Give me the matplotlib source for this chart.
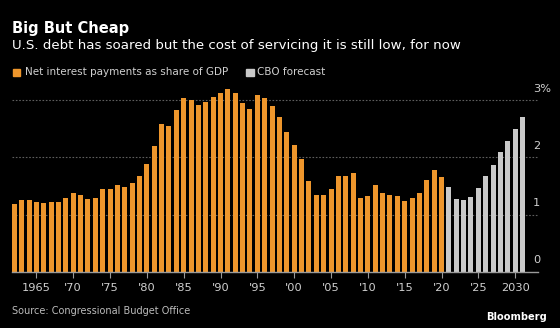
import matplotlib
matplotlib.use("Agg")
import matplotlib.pyplot as plt
from matplotlib.patches import Rectangle

# ---- data ----
hist_years = list(range(1962, 2021))
hist_values = [1.18, 1.25, 1.25, 1.22, 1.20, 1.23, 1.23, 1.30, 1.38, 1.34,
               1.28, 1.30, 1.45, 1.45, 1.51, 1.48, 1.56, 1.67, 1.88, 2.20,
               2.58, 2.54, 2.83, 3.04, 3.01, 2.92, 2.97, 3.05, 3.13, 3.20,
               3.12, 2.95, 2.84, 3.09, 3.04, 2.90, 2.71, 2.44, 2.21, 1.98,
               1.59, 1.35, 1.34, 1.45, 1.67, 1.67, 1.72, 1.30, 1.33, 1.51,
               1.38, 1.34, 1.33, 1.24, 1.30, 1.37, 1.60, 1.78, 1.66]
fc_years = list(range(2021, 2032))
fc_values = [1.48, 1.27, 1.25, 1.31, 1.47, 1.67, 1.87, 2.10, 2.29, 2.50, 2.71]
xtick_pos = [1965, 1970, 1975, 1980, 1985, 1990, 1995, 2000, 2005, 2010, 2015, 2020, 2025, 2030]
xtick_labels = ["1965", "'70", "'75", "'80", "'85", "'90", "'95", "'00", "'05", "'10", "'15", "'20", "'25", "2030"]
ytick_pos = [0, 1, 2, 3]
ytick_labels = ["0", "1", "2", "3%"]

ORANGE = "#EE962C"
GREY = "#C9C9C9"
TXT = "#D0D0D0"
W, H = 560, 328

plt.rcParams['font.family'] = ['DejaVu Sans']
fig = plt.figure(figsize=(W / 100, H / 100), dpi=100, facecolor="black")

# axes in pixel geometry
left_px, right_px = 11.7, 538
base_px = 272
ppu = 57.3
ymax = 3.3
top_px = base_px - ymax * ppu
ax = fig.add_axes([left_px / W, (H - base_px) / H, (right_px - left_px) / W, (base_px - top_px) / H])
ax.set_facecolor("black")

ax.bar(hist_years, hist_values, width=0.68, color=ORANGE, zorder=2)
ax.bar(fc_years, fc_values, width=0.68, color=GREY, zorder=2)

ax.set_xlim(1961.65, 2033.1)
ax.set_ylim(0, ymax)

for s in ["top", "right", "left"]:
    ax.spines[s].set_visible(False)
ax.spines["bottom"].set_color("#9A9A9A")
ax.spines["bottom"].set_linewidth(1.0)
ax.spines["bottom"].set_zorder(3)

ax.set_yticks([])
for v in ytick_pos[1:]:
    ax.axhline(v, color="#5E5E5E", linewidth=0.8, linestyle=(0, (1.5, 1.5)), zorder=1)

ax.set_xticks(xtick_pos)
ax.set_xticklabels(xtick_labels, color=TXT, fontsize=8.2)
ax.tick_params(axis="x", length=4, width=0.8, color="#9A9A9A", pad=4)

# y labels (right side, above grid lines)
xl = (533 - left_px) / (right_px - left_px)
for v, lab in zip(ytick_pos, ytick_labels):
    ax.text(xl, v + 11.6 / ppu, lab, transform=ax.get_yaxis_transform(),
            color=TXT, fontsize=8.2, ha="left", va="center")

# titles
fig.text(12 / W, 1 - 28 / H, "Big But Cheap", color="white", fontsize=10.5,
         fontweight="bold", ha="left", va="center")
fig.text(12 / W, 1 - 45 / H, "U.S. debt has soared but the cost of servicing it is still low, for now",
         color="white", fontsize=9.6, ha="left", va="center")

# legend
fig.patches.append(Rectangle((12.5 / W, 1 - 76 / H), 7.5 / W, 7.5 / H,
                             transform=fig.transFigure, color=ORANGE, figure=fig))
fig.text(25 / W, 1 - 72 / H, "Net interest payments as share of GDP", color=TXT,
         fontsize=7.45, ha="left", va="center")
fig.patches.append(Rectangle((246 / W, 1 - 76 / H), 7.5 / W, 7.5 / H,
                             transform=fig.transFigure, color=GREY, figure=fig))
fig.text(257 / W, 1 - 72 / H, "CBO forecast", color=TXT,
         fontsize=7.45, ha="left", va="center")

# footer
fig.text(12 / W, 1 - 311 / H, "Source: Congressional Budget Office", color="#BBBBBB",
         fontsize=7.0, ha="left", va="center")
fig.text(547 / W, 1 - 316.5 / H, "Bloomberg", color="white", fontsize=7.1,
         fontweight="bold", ha="right", va="center")

fig.savefig("out.png", dpi=100, facecolor="black")
